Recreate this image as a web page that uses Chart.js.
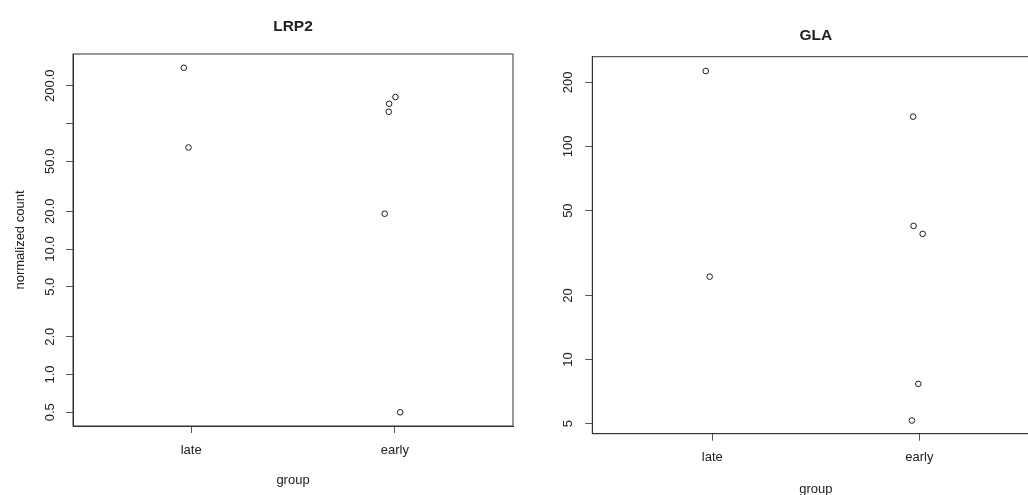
<!DOCTYPE html>
<html>
<head>
<meta charset="utf-8">
<script src="https://cdn.jsdelivr.net/npm/chart.js@4/dist/chart.umd.min.js"></script>
<style>
  html, body { margin: 0; padding: 0; background: #ffffff; overflow: hidden; width: 1028px; height: 495px; }
  .panel { position: absolute; top: 0; }
</style>
</head>
<body>
<div class="panel" style="left:0px;"><canvas id="lrp2" width="540" height="495"></canvas></div>
<div class="panel" style="left:540px;"><canvas id="gla" width="540" height="502"></canvas></div>
<script>
// Group names along the x axis (group 1 = late, group 2 = early)
const groups = ['late', 'early'];

// LRP2: jittered x positions and normalized counts
const lrp2X = [0.964, 0.987, 2.003, 1.972, 1.970, 1.950, 2.026];
const lrp2Count = [278, 64.4, 162.5, 143.6, 124, 19.1, 0.5];
const lrp2TickValues = [0.5, 1, 2, 5, 10, 20, 50, 100, 200];
const lrp2TickLabels = ['0.5', '1.0', '2.0', '5.0', '10.0', '20.0', '50.0', '', '200.0'];

// GLA: jittered x positions and normalized counts
const glaX = [0.968, 0.987, 1.970, 1.972, 2.016, 1.995, 1.964];
const glaCount = [226, 24.5, 138, 42.4, 38.9, 7.69, 5.18];
const glaTickValues = [5, 10, 20, 50, 100, 200];
const glaTickLabels = ['5', '10', '20', '50', '100', '200'];

const FONT = '"Liberation Sans", Arial, Helvetica, sans-serif';
const INK = '#222222';
const AXIS = '#555555';

// Draws the full box around the plot area and the y tick labels turned parallel to the axis
const framePlugin = {
  id: 'frame',
  afterDraw(chart, args, opts) {
    const { ctx, chartArea: a } = chart;
    const ys = chart.scales.y;
    ctx.save();
    ctx.strokeStyle = '#333333';
    ctx.lineWidth = 1;
    ctx.strokeRect(a.left, a.top, a.right - a.left, a.bottom - a.top);
    ctx.fillStyle = INK;
    ctx.font = '13px ' + FONT;
    ctx.textAlign = 'center';
    ctx.textBaseline = 'middle';
    opts.values.forEach((v, i) => {
      const y = ys.getPixelForValue(v);
      ctx.save();
      ctx.translate(a.left - opts.labelGap, y);
      ctx.rotate(-Math.PI / 2);
      ctx.fillText(opts.labels[i], 0, 0);
      ctx.restore();
    });
    ctx.restore();
  }
};

function makePanel(id, cfg) {
  const points = cfg.xs.map((x, i) => ({ x: x, y: cfg.counts[i] }));
  return new Chart(document.getElementById(id), {
    type: 'scatter',
    data: {
      datasets: [{
        data: points,
        pointStyle: 'circle',
        pointRadius: 2.8,
        pointHoverRadius: 2.8,
        pointBorderWidth: 1,
        pointBorderColor: '#1a1a1a',
        pointBackgroundColor: 'rgba(255,255,255,0)'
      }]
    },
    options: {
      responsive: false,
      animation: false,
      events: [],
      layout: { padding: { top: 0, left: 0, right: cfg.padRight, bottom: 0 } },
      plugins: {
        legend: { display: false },
        tooltip: { enabled: false },
        title: {
          display: true,
          text: cfg.title,
          fullSize: false,
          color: INK,
          font: { family: FONT, size: 15.5, weight: 'bold', lineHeight: 1.2 },
          padding: { top: cfg.titlePadTop, bottom: cfg.titlePadBottom }
        },
        frame: { values: cfg.tickValues, labels: cfg.tickLabels, labelGap: cfg.labelGap }
      },
      scales: {
        x: {
          type: 'linear',
          position: 'bottom',
          bounds: 'data',
          min: 0.42,
          max: 2.58,
          afterBuildTicks: (s) => { s.ticks = groups.map((g, i) => ({ value: i + 1 })); },
          afterFit: (s) => { s.height = cfg.xAxisHeight; },
          ticks: {
            color: INK,
            font: { family: FONT, size: 13 },
            padding: 9.2,
            maxRotation: 0,
            autoSkip: false,
            callback: (v) => groups[Math.round(v) - 1]
          },
          grid: { drawOnChartArea: false, drawTicks: true, tickLength: 7, color: AXIS, lineWidth: 1 },
          border: { display: true, color: '#333333' },
          title: {
            display: true,
            text: 'group',
            color: INK,
            font: { family: FONT, size: 13, lineHeight: 1.2 },
            padding: { top: 0, bottom: cfg.xTitlePadBottom }
          }
        },
        y: {
          type: 'logarithmic',
          position: 'left',
          bounds: 'data',
          min: cfg.yMin,
          max: cfg.yMax,
          afterBuildTicks: (s) => { s.ticks = cfg.tickValues.map(v => ({ value: v })); },
          afterFit: (s) => { s.width = cfg.yAxisWidth; },
          ticks: { display: false },
          grid: { drawOnChartArea: false, drawTicks: true, tickLength: 7, color: AXIS, lineWidth: 1 },
          border: { display: true, color: '#333333' },
          title: {
            display: !!cfg.yTitle,
            text: cfg.yTitle || '',
            color: INK,
            font: { family: FONT, size: 13, lineHeight: 1.2 },
            padding: { top: 12.7, bottom: 0 }
          }
        }
      }
    },
    plugins: [framePlugin]
  });
}

makePanel('lrp2', {
  title: 'LRP2',
  xs: lrp2X, counts: lrp2Count,
  tickValues: lrp2TickValues, tickLabels: lrp2TickLabels,
  yMin: 0.389, yMax: 357.8,
  yTitle: 'normalized count',
  yAxisWidth: 73, xAxisHeight: 69, padRight: 27,
  titlePadTop: 17.4, titlePadBottom: 18,
  xTitlePadBottom: 7.2, labelGap: 22.5
});

makePanel('gla', {
  title: 'GLA',
  xs: glaX, counts: glaCount,
  tickValues: glaTickValues, tickLabels: glaTickLabels,
  yMin: 4.49, yMax: 263.8,
  yTitle: '',
  yAxisWidth: 52.3, xAxisHeight: 68.3, padRight: 40.6,
  titlePadTop: 26, titlePadBottom: 12.1,
  xTitlePadBottom: 5.2, labelGap: 24
});
</script>
</body>
</html>
